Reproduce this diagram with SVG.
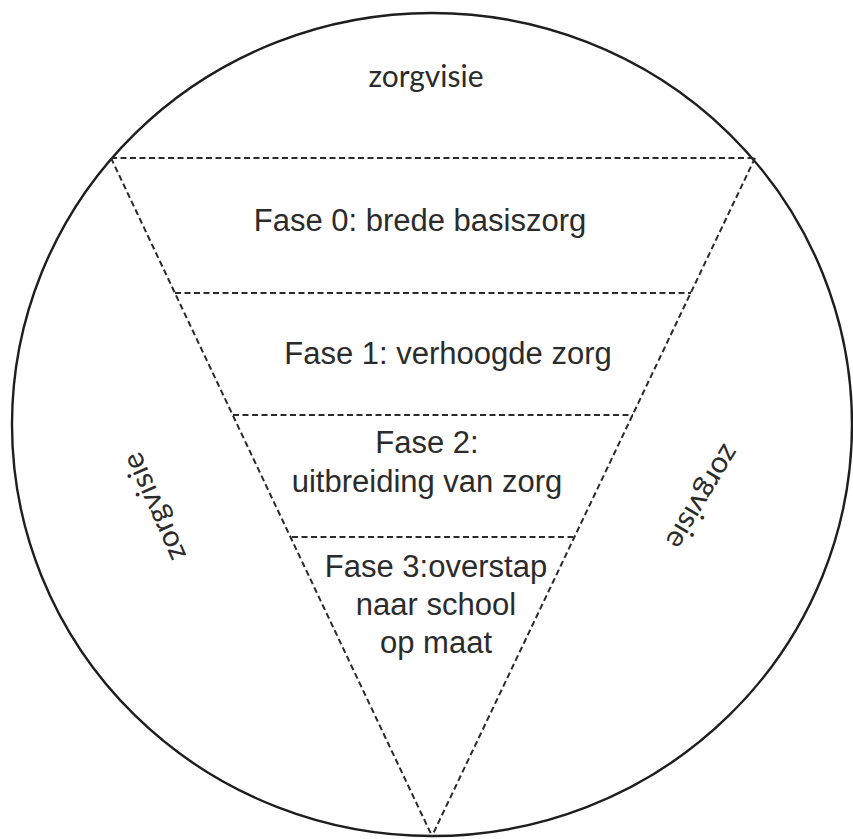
<svg xmlns="http://www.w3.org/2000/svg" width="853" height="839" viewBox="0 0 853 839">
  <style>
    .outline { fill: none; stroke: #1e1e1e; stroke-width: 2.4; }
    .dash { fill: none; stroke: #2a2a2a; stroke-width: 2; stroke-dasharray: 6 3.5; }
    .phase { font-family: "Liberation Sans", Arial, sans-serif; font-size: 31px; fill: #2b2b2b; text-anchor: middle; }
    .visie { font-family: Lato, "Open Sans", sans-serif; font-size: 30px; fill: #2b2b2b; text-anchor: middle; }
  </style>
  <rect width="853" height="839" fill="#ffffff"/>
  <g id="circle">
    <ellipse class="outline" cx="432" cy="424.5" rx="420" ry="411.5"/>
  </g>
  <g id="connectors">
    <line class="dash" x1="111" y1="158" x2="755" y2="158"/>
    <line class="dash" x1="111" y1="158" x2="432" y2="836"/>
    <line class="dash" x1="755" y1="158" x2="432" y2="836"/>
    <line class="dash" x1="175" y1="293" x2="691" y2="293"/>
    <line class="dash" x1="233" y1="415" x2="633" y2="415"/>
    <line class="dash" x1="292" y1="537" x2="575" y2="537"/>
  </g>
  <g id="zorgvisie-top">
    <text class="visie" x="426" y="87">zorgvisie</text>
  </g>
  <g id="zorgvisie-left">
    <text class="visie" transform="translate(154,507) rotate(-114)" x="0" y="10">zorgvisie</text>
  </g>
  <g id="zorgvisie-right">
    <text class="visie" transform="translate(703,497) rotate(121)" x="0" y="10">zorgvisie</text>
  </g>
  <g id="fase0">
    <text class="phase" x="420" y="231">Fase 0: brede basiszorg</text>
  </g>
  <g id="fase1">
    <text class="phase" x="448" y="364">Fase 1: verhoogde zorg</text>
  </g>
  <g id="fase2">
    <text class="phase" x="427" y="453">Fase 2:</text>
    <text class="phase" x="427" y="492">uitbreiding van zorg</text>
  </g>
  <g id="fase3">
    <text class="phase" x="436" y="577">Fase 3:overstap</text>
    <text class="phase" x="436" y="615">naar school</text>
    <text class="phase" x="436" y="653">op maat</text>
  </g>
</svg>
